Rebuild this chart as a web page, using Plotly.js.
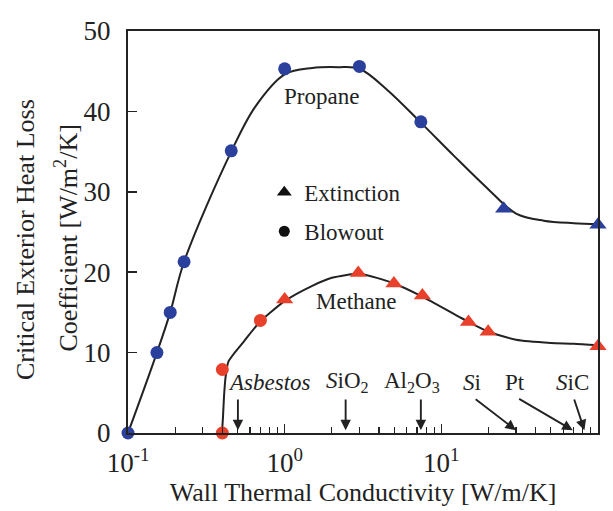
<!DOCTYPE html>
<html>
<head>
<meta charset="utf-8">
<script src="https://cdn.plot.ly/plotly-3.0.1.min.js"></script>
<style>html,body{margin:0;padding:0;background:#fff;}#chart{width:613px;height:511px;}</style>
</head>
<body>
<div id="chart"></div>
<script>
// ---- data ----
// Propane (blue)
const propaneBlowoutK = [0.1, 0.153, 0.186, 0.228, 0.456, 1.0, 3.0, 7.4];
const propaneBlowoutH = [0, 10, 15, 21.3, 35.1, 45.3, 45.6, 38.7];
const propaneExtK = [25, 100];
const propaneExtH = [27.9, 25.9];
const propaneCurveK = [0.1, 0.153, 0.186, 0.228, 0.456, 0.65, 1.0, 1.5, 2.2, 3.0, 4.5, 7.4, 12, 20, 30, 45, 70, 100];
const propaneCurveH = [0, 10, 15, 21.3, 35, 40.6, 44.6, 45.4, 45.5, 45.3, 42.7, 38.6, 34.5, 30.3, 27.3, 26.4, 26.1, 26.0];
// Methane (red)
const methaneBlowoutK = [0.40, 0.40, 0.70];
const methaneBlowoutH = [0, 7.9, 14.0];
const methaneExtK = [1.0, 2.95, 4.98, 7.57, 14.9, 19.9, 100];
const methaneExtH = [16.6, 19.9, 18.6, 17.1, 13.8, 12.6, 10.8];
const methaneCurveK = [0.398, 0.404, 0.41, 0.42, 0.438, 0.55, 0.7, 1.0, 1.5, 2.0, 3.0, 5.0, 7.5, 15, 20, 30, 50, 70, 100];
const methaneCurveH = [0, 2, 4.5, 7, 8.9, 11.4, 13.9, 16.4, 18.3, 19.3, 19.8, 18.6, 17.0, 13.8, 12.6, 11.6, 11.2, 11.1, 10.9];
// Wall materials (thermal conductivity marked on the axis)
const materialNames = ['Asbestos', '<i>S</i>iO<sub>2</sub>', 'Al<sub>2</sub>O<sub>3</sub>', '<i>S</i>i', 'Pt', '<i>S</i>iC'];
const materialK = [0.503, 2.45, 7.4, 29.9, 69, 81.9];
const materialLabelK = [0.80, 2.50, 6.5, 15.6, 29.5, 68.8];
const materialArrowTailK = [0.503, 2.45, 7.4, 16.2, 30.7, 70];
// Tick labels
const xTickVals = [0.1, 1, 10, 100];
const xTickText = ['10<sup>-1</sup>', '10<sup>0</sup>', '10<sup>1</sup>', '10<sup>2</sup>'];

// ---- styling ----
const FONT = 'Liberation Serif, Times New Roman, serif';
const INK = '#222222';
const BLUE = '#2b3f9c';
const RED = '#e8402a';

const traces = [
  {x: propaneCurveK, y: propaneCurveH, mode: 'lines', line: {color: INK, width: 2, shape: 'spline', smoothing: 1.0}, showlegend: false, hoverinfo: 'skip'},
  {x: methaneCurveK, y: methaneCurveH, mode: 'lines', line: {color: INK, width: 2, shape: 'spline', smoothing: 0.6}, showlegend: false, hoverinfo: 'skip'},
  {x: propaneBlowoutK, y: propaneBlowoutH, mode: 'markers', marker: {symbol: 'circle', size: 13, color: BLUE}, cliponaxis: false, showlegend: false, name: 'Propane blowout'},
  {x: propaneExtK, y: propaneExtH, mode: 'markers', marker: {symbol: 'triangle-up', size: 15, color: BLUE}, cliponaxis: false, showlegend: false, name: 'Propane extinction'},
  {x: methaneBlowoutK, y: methaneBlowoutH, mode: 'markers', marker: {symbol: 'circle', size: 13, color: RED}, cliponaxis: false, showlegend: false, name: 'Methane blowout'},
  {x: methaneExtK, y: methaneExtH, mode: 'markers', marker: {symbol: 'triangle-up', size: 15, color: RED}, cliponaxis: false, showlegend: false, name: 'Methane extinction'},
  // legend entries
  {x: [null], y: [null], mode: 'markers', marker: {symbol: 'triangle-up', size: 13, color: '#111'}, name: 'Extinction', legendgroup: 'a', showlegend: true},
  {x: [null], y: [null], mode: 'markers', marker: {symbol: 'circle', size: 11, color: '#111'}, name: 'Blowout', legendgroup: 'b', showlegend: true}
];

const annotations = [];
materialNames.forEach((name, i) => {
  annotations.push({
    x: Math.log10(materialLabelK[i]), y: 6.3, xref: 'x', yref: 'y',
    text: i === 0 ? '<i>' + name + '</i>' : name,
    showarrow: false, xanchor: 'center', yanchor: 'middle',
    font: {family: FONT, size: 23, color: INK}
  });
  annotations.push({
    x: Math.log10(materialK[i]), y: 0.35, xref: 'x', yref: 'y',
    ax: Math.log10(materialArrowTailK[i]), ay: 4.35, axref: 'x', ayref: 'y',
    text: '', showarrow: true, arrowhead: 2, arrowsize: 1.1, arrowwidth: 1.9, arrowcolor: INK
  });
});
annotations.push({x: Math.log10(1.73), y: 41.8, xref: 'x', yref: 'y', text: 'Propane', showarrow: false,
  font: {family: FONT, size: 23, color: INK}});
annotations.push({x: Math.log10(2.87), y: 16.3, xref: 'x', yref: 'y', text: 'Methane', showarrow: false,
  font: {family: FONT, size: 23, color: INK}});
// y-axis title (two lines)
annotations.push({x: -0.219, y: 0.48, xref: 'paper', yref: 'paper', text: 'Critical Exterior Heat Loss',
  textangle: -90, showarrow: false, xanchor: 'center', yanchor: 'middle', font: {family: FONT, size: 26, color: INK}});
annotations.push({x: -0.130, y: 0.486, xref: 'paper', yref: 'paper', text: 'Coefficient [W/m<sup>2</sup>/K]',
  textangle: -90, showarrow: false, xanchor: 'center', yanchor: 'middle', font: {family: FONT, size: 26, color: INK}});

const layout = {
  width: 613, height: 511,
  margin: {l: 128, r: 15, t: 31, b: 78},
  paper_bgcolor: '#ffffff', plot_bgcolor: '#ffffff',
  font: {family: FONT, color: INK},
  xaxis: {
    type: 'log', range: [-1, 2],
    tickmode: 'array', tickvals: xTickVals, ticktext: xTickText,
    ticks: 'inside', ticklen: 9, tickwidth: 1.5, tickcolor: INK,
    minor: {ticks: 'inside', ticklen: 6, tickwidth: 1.3, tickcolor: INK, dtick: 'D1', showgrid: false},
    showline: true, linecolor: INK, linewidth: 2, mirror: true,
    showgrid: false, zeroline: false,
    tickfont: {family: FONT, size: 27, color: INK},
    ticklabelstandoff: 5,
    title: {text: 'Wall Thermal Conductivity [W/m/K]', font: {family: FONT, size: 26, color: INK}, standoff: 2}
  },
  yaxis: {
    range: [0, 50], dtick: 10, tick0: 0,
    ticks: 'inside', ticklen: 9, tickwidth: 1.5, tickcolor: INK,
    showline: true, linecolor: INK, linewidth: 2, mirror: true,
    showgrid: false, zeroline: false,
    tickfont: {family: FONT, size: 27, color: INK},
    ticklabelstandoff: 10
  },
  showlegend: true,
  legend: {
    x: 0.29, y: 0.652, xanchor: 'left', yanchor: 'top',
    bgcolor: 'rgba(0,0,0,0)', borderwidth: 0,
    font: {family: FONT, size: 23, color: INK},
    traceorder: 'grouped', tracegroupgap: 6
  },
  annotations: annotations
};

Plotly.newPlot('chart', traces, layout, {displayModeBar: false, staticPlot: true});
</script>
</body>
</html>
